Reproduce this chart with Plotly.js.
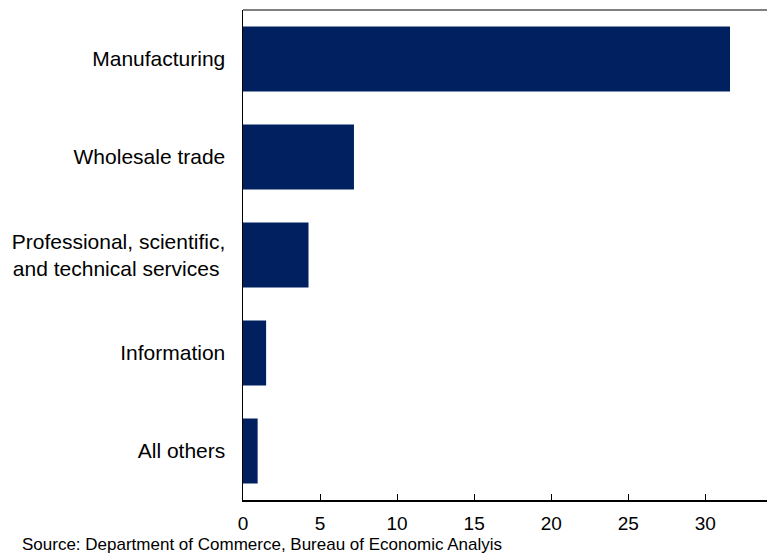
<!DOCTYPE html>
<html>
<head>
<meta charset="utf-8">
<script src="https://cdn.plot.ly/plotly-3.0.1.min.js"></script>
<style>
html,body{margin:0;padding:0;background:#fff;}
#chart{width:767px;height:554px;}
</style>
</head>
<body>
<div id="chart"></div>
<script>
var categories = ["All others", "Information", "Professional, scientific,<br>and technical services ", "Wholesale trade", "Manufacturing"];
var values = [0.95, 1.5, 4.25, 7.2, 31.6];
var tickValues = [0, 5, 10, 15, 20, 25, 30];
var tickLabels = ["0", "5", "10", "15", "20", "25", "30"];
var sourceText = "Source: Department of Commerce, Bureau of Economic Analyis";

var trace = {
  type: "bar",
  orientation: "h",
  x: values,
  y: categories,
  marker: {color: "#002060", line: {width: 0}},
  hoverinfo: "none"
};

var layout = {
  width: 767,
  height: 554,
  margin: {l: 243, r: 0, t: 10, b: 54, pad: 0},
  paper_bgcolor: "#ffffff",
  plot_bgcolor: "#ffffff",
  showlegend: false,
  bargap: 0.335,
  font: {family: "Liberation Sans, Arial, sans-serif", color: "#000000"},
  xaxis: {
    range: [0, 34],
    tickvals: tickValues,
    ticktext: tickLabels,
    ticks: "inside",
    ticklen: 6,
    tickwidth: 1,
    tickcolor: "#000000",
    showline: true,
    linecolor: "#000000",
    linewidth: 1.5,
    showgrid: false,
    zeroline: false,
    tickfont: {size: 19, color: "#000000"},
    ticklabelstandoff: 6,
    fixedrange: true
  },
  yaxis: {
    type: "category",
    categoryorder: "array",
    categoryarray: categories,
    range: [-0.5, 4.5],
    showline: true,
    linecolor: "#000000",
    linewidth: 1.5,
    ticks: "",
    showgrid: false,
    zeroline: false,
    tickfont: {size: 21, color: "#000000"},
    ticklabelstandoff: 12,
    fixedrange: true
  },
  shapes: [{
    type: "line", xref: "paper", yref: "paper",
    x0: 0, x1: 1, y0: 1, y1: 1,
    line: {color: "#555555", width: 1.5}
  }],
  annotations: [{
    text: sourceText,
    xref: "paper", yref: "paper",
    x: -243/524, y: 0,
    xanchor: "left", yanchor: "top",
    yshift: -33,
    xshift: 20,
    showarrow: false,
    font: {size: 17, color: "#000000"}
  }]
};

Plotly.newPlot("chart", [trace], layout, {displayModeBar: false, staticPlot: true});
</script>
</body>
</html>
